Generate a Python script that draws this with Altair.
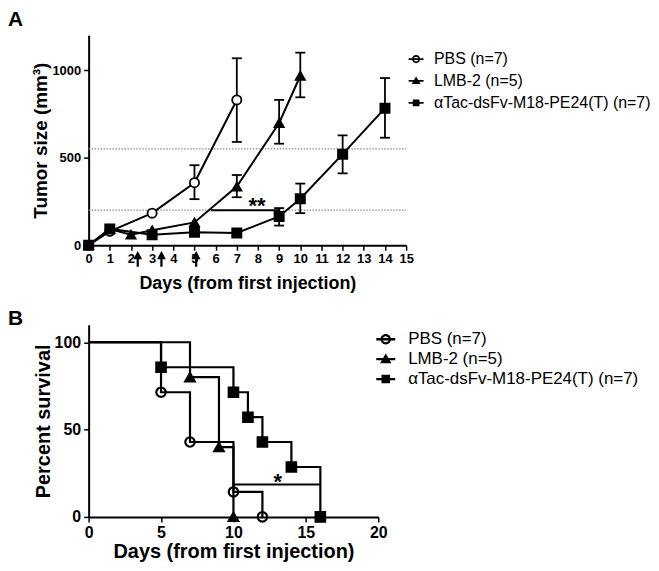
import altair as alt
import pandas as pd

FONT = "Liberation Sans"

series_names = ["PBS (n=7)", "LMB-2 (n=5)", "\u03b1Tac-dsFv-M18-PE24(T) (n=7)"]

# ---------------- Panel A : tumor size ----------------
pbs_days = [0, 1, 3, 5, 7]
pbs_size = [0, 79, 183, 357, 830]
lmb_days = [0, 1, 2, 3, 5, 7, 9, 10]
lmb_size = [0, 92, 60, 85, 130, 335, 698, 968]
tac_days = [0, 1, 3, 5, 7, 9, 10, 12, 14]
tac_size = [0, 93, 60, 74, 70, 164, 265, 520, 783]

pbs_err_days = [5, 7]
pbs_err_lo = [263, 590]
pbs_err_hi = [457, 1068]
lmb_err_days = [7, 9, 10]
lmb_err_lo = [274, 580, 845]
lmb_err_hi = [401, 830, 1100]
tac_err_days = [9, 10, 12, 14]
tac_err_lo = [112, 183, 410, 614]
tac_err_hi = [212, 352, 628, 955]

ref_levels = [200, 550]
injection_days = [2.32, 3.44, 5.08]
injection_level = -78
sig_a_from = [5.77]
sig_a_to = [9]
sig_a_level = [200]
sig_a_text = ["**"]
sig_a_text_day = [7.95]
sig_a_text_level = [225]

a_xticks = list(range(0, 16))
a_yticks = [0, 500, 1000]

# ---------------- Panel B : survival ----------------
pbs_km_days = [0, 5, 7, 10, 12]
pbs_km = [100, 71.4, 42.9, 14.3, 0]
lmb_km_days = [0, 7, 9, 10]
lmb_km = [100, 80, 40, 0]
tac_km_days = [0, 5, 10, 11, 12, 14, 16]
tac_km = [100, 85.7, 71.4, 57.1, 42.9, 28.6, 0]

sig_b_from = [10]
sig_b_to = [16]
sig_b_level = [18.5]
sig_b_text = ["*"]
sig_b_text_day = [13.06]
sig_b_text_level = [20]

b_xticks = [0, 5, 10, 15, 20]
b_yticks = [0, 50, 100]

# legend symbol paths (line + marker), drawn as filled outlines
bar = "M-1,-0.12H1V0.12H-1Z"
circle_path = (bar + "M-0.55,0A0.55,0.55,0,1,1,0.55,0A0.55,0.55,0,1,1,-0.55,0Z"
               "M-0.32,0A0.32,0.32,0,1,0,0.32,0A0.32,0.32,0,1,0,-0.32,0Z")
tri_path = bar + "M0,-0.6L0.6,0.42L-0.6,0.42Z"
sq_path = bar + "M-0.45,-0.45H0.45V0.45H-0.45Z"
arrow_path = "M-0.14,1L0.14,1L0.14,0.05L0.55,0.05L0,-1L-0.55,0.05L-0.14,0.05Z"


def series_frame(day_lists, val_lists, xname, yname):
    rows = []
    for name, ds, vs in zip(series_names, day_lists, val_lists):
        for d, v in zip(ds, vs):
            rows.append({"series": name, xname: d, yname: v})
    return pd.DataFrame(rows)


dfA = series_frame([pbs_days, lmb_days, tac_days], [pbs_size, lmb_size, tac_size], "day", "size")
errA_rows = []
for name, ds, lo, hi in zip(series_names, [pbs_err_days, lmb_err_days, tac_err_days],
                            [pbs_err_lo, lmb_err_lo, tac_err_lo], [pbs_err_hi, lmb_err_hi, tac_err_hi]):
    for d, l, h in zip(ds, lo, hi):
        errA_rows.append({"series": name, "day": d, "lo": l, "hi": h})
errA = pd.DataFrame(errA_rows)

dfB = series_frame([pbs_km_days, lmb_km_days, tac_km_days], [pbs_km, lmb_km, tac_km], "day", "surv")
dfB_pts = dfB[dfB["day"] > 0]

legend_df = pd.DataFrame({"entry": series_names})

# ---------------- scales & axes ----------------
scaleAx = alt.Scale(domain=[0, 15], nice=False, zero=False)
scaleAy = alt.Scale(domain=[0, 1200], nice=False)
axisAx = alt.Axis(values=a_xticks, tickCount=40, title="Days (from first injection)", format="d",
                  labelFontSize=13, titleFontSize=18, tickSize=5, labelPadding=2,
                  labelFlush=False, labelOverlap=False,
                  titleBaseline="alphabetic", titleY=44)
axisAy = alt.Axis(values=a_yticks, tickCount=10, title="Tumor size (mm\u00b3)", format="d",
                  labelFontSize=13, titleFontSize=19, tickSize=5, labelPadding=3,
                  labelFlush=False, labelOverlap=False,
                  titleBaseline="alphabetic", titleX=-42)


def XA(f):
    return alt.X(f, type="quantitative", scale=scaleAx, axis=axisAx)


def YA(f):
    return alt.Y(f, type="quantitative", scale=scaleAy, axis=axisAy)


scaleBx = alt.Scale(domain=[0, 20], nice=False, zero=False)
scaleBy = alt.Scale(domain=[0, 110], nice=False)
axisBx = alt.Axis(values=b_xticks, tickCount=10, title="Days (from first injection)", format="d",
                  labelFontSize=16, titleFontSize=20, tickSize=5, labelPadding=3,
                  labelFlush=False, labelOverlap=False,
                  titleBaseline="alphabetic", titleY=41)
axisBy = alt.Axis(values=b_yticks, tickCount=10, title="Percent survival", format="d",
                  labelFontSize=16, titleFontSize=20, tickSize=5, labelPadding=3,
                  labelFlush=False, labelOverlap=False,
                  titleBaseline="alphabetic", titleX=-39)


def XB(f):
    return alt.X(f, type="quantitative", scale=scaleBx, axis=axisBx)


def YB(f):
    return alt.Y(f, type="quantitative", scale=scaleBy, axis=axisBy)


def legend_layer(legend_x, legend_y, sym_size, font_size, label_offset, row_pad):
    lg = alt.Legend(title=None, orient="none", legendX=legend_x, legendY=legend_y,
                    symbolSize=sym_size, symbolStrokeWidth=0, symbolFillColor="black",
                    symbolOpacity=1,
                    labelFont=FONT, labelFontSize=font_size, labelColor="black",
                    labelOffset=label_offset, rowPadding=row_pad, padding=0, labelLimit=500)
    return alt.Chart(legend_df).mark_point(filled=True, color="black", strokeWidth=0, opacity=1).encode(
        shape=alt.Shape("entry:N", scale=alt.Scale(domain=series_names, range=[circle_path, tri_path, sq_path]), legend=lg),
    ).transform_filter("false")


def panel_label(letter, y_off, baseline):
    return alt.Chart(pd.DataFrame({"label": [letter]})).mark_text(
        align="left", baseline=baseline, fontSize=21, fontWeight="bold", font=FONT, color="black"
    ).encode(text="label:N", x=alt.value(-81), y=alt.value(y_off))


# ---------------- Panel A layers ----------------
refA = alt.Chart(pd.DataFrame({"level": ref_levels})).mark_rule(
    color="#8a8a8a", strokeDash=[1.5, 1.5], strokeWidth=1.2
).encode(y=YA("level"), x=alt.datum(0), x2=alt.datum(15))

linesA = alt.Chart(dfA).mark_line(color="black", strokeWidth=2).encode(
    x=XA("day"), y=YA("size"), detail="series:N", order="day:Q")

errRuleA = alt.Chart(errA).mark_rule(color="black", strokeWidth=1.8).encode(
    x=XA("day"), y=YA("lo"), y2="hi")
errLoA = alt.Chart(errA).mark_tick(orient="horizontal", size=10, thickness=1.8, color="black", opacity=1).encode(
    x=XA("day"), y=YA("lo"))
errHiA = alt.Chart(errA).mark_tick(orient="horizontal", size=10, thickness=1.8, color="black", opacity=1).encode(
    x=XA("day"), y=YA("hi"))

pointsA = alt.Chart(dfA).mark_point(filled=True, size=85, stroke="black", strokeWidth=1.8, opacity=1).encode(
    x=XA("day"), y=YA("size"),
    shape=alt.Shape("series:N", scale=alt.Scale(domain=series_names, range=["circle", "triangle-up", "square"]), legend=None),
    fill=alt.Fill("series:N", scale=alt.Scale(domain=series_names, range=["white", "black", "black"]), legend=None),
)

bracketA = alt.Chart(pd.DataFrame({"x0": sig_a_from, "x1": sig_a_to, "level": sig_a_level})).mark_rule(
    color="black", strokeWidth=2).encode(x=XA("x0"), x2="x1", y=YA("level"))

starA = alt.Chart(pd.DataFrame({"day": sig_a_text_day, "level": sig_a_text_level, "t": sig_a_text})).mark_text(
    fontSize=22, fontWeight="bold", font=FONT, baseline="middle", align="center", color="black"
).encode(x=XA("day"), y=YA("level"), text="t:N")

arrowsA = alt.Chart(pd.DataFrame({"day": injection_days, "level": [injection_level] * len(injection_days)})).mark_point(
    shape=arrow_path, size=256, filled=True, color="black", opacity=1, strokeWidth=0
).encode(x=XA("day"), y=YA("level"))

chartA = alt.layer(
    refA, linesA, errRuleA, errLoA, errHiA, pointsA, bracketA, starA, arrowsA,
    legend_layer(321, 16, 225, 16, 10, 6),
    panel_label("A", -26, "top"),
).resolve_scale(shape="independent", fill="independent").properties(width=319, height=211)

# ---------------- Panel B layers ----------------
linesB = alt.Chart(dfB).mark_line(color="black", strokeWidth=2.2, interpolate="step-after").encode(
    x=XB("day"), y=YB("surv"), detail="series:N", order="day:Q")

pointsB = alt.Chart(dfB_pts).mark_point(filled=True, size=90, stroke="black", strokeWidth=2.2, opacity=1).encode(
    x=XB("day"), y=YB("surv"),
    shape=alt.Shape("series:N", scale=alt.Scale(domain=series_names, range=["circle", "triangle-up", "square"]), legend=None),
    fill=alt.Fill("series:N", scale=alt.Scale(domain=series_names, range=["transparent", "black", "black"]), legend=None),
)

bracketB = alt.Chart(pd.DataFrame({"x0": sig_b_from, "x1": sig_b_to, "level": sig_b_level})).mark_rule(
    color="black", strokeWidth=2).encode(x=XB("x0"), x2="x1", y=YB("level"))

starB = alt.Chart(pd.DataFrame({"day": sig_b_text_day, "level": sig_b_text_level, "t": sig_b_text})).mark_text(
    fontSize=22, fontWeight="bold", font=FONT, baseline="middle", align="center", color="black"
).encode(x=XB("day"), y=YB("level"), text="t:N")

chartB = alt.layer(
    linesB, bracketB, pointsB, starB,
    legend_layer(289, 5, 361, 17, 13, 2),
    panel_label("B", -17, "top"),
).resolve_scale(shape="independent", fill="independent").properties(width=291, height=193)

chart = alt.vconcat(chartA, chartB, spacing=80, bounds="flush", padding=0).resolve_scale(
    x="independent", y="independent", shape="independent", fill="independent"
).configure_view(stroke=None).configure_axis(
    domainColor="black", domainWidth=2, tickColor="black", tickWidth=1.5,
    labelColor="black", titleColor="black", labelFont=FONT, titleFont=FONT,
    labelFontWeight="bold", titleFontWeight="bold", grid=False
)

chart.save("out.html", embed_options={"renderer": "svg", "actions": False})
